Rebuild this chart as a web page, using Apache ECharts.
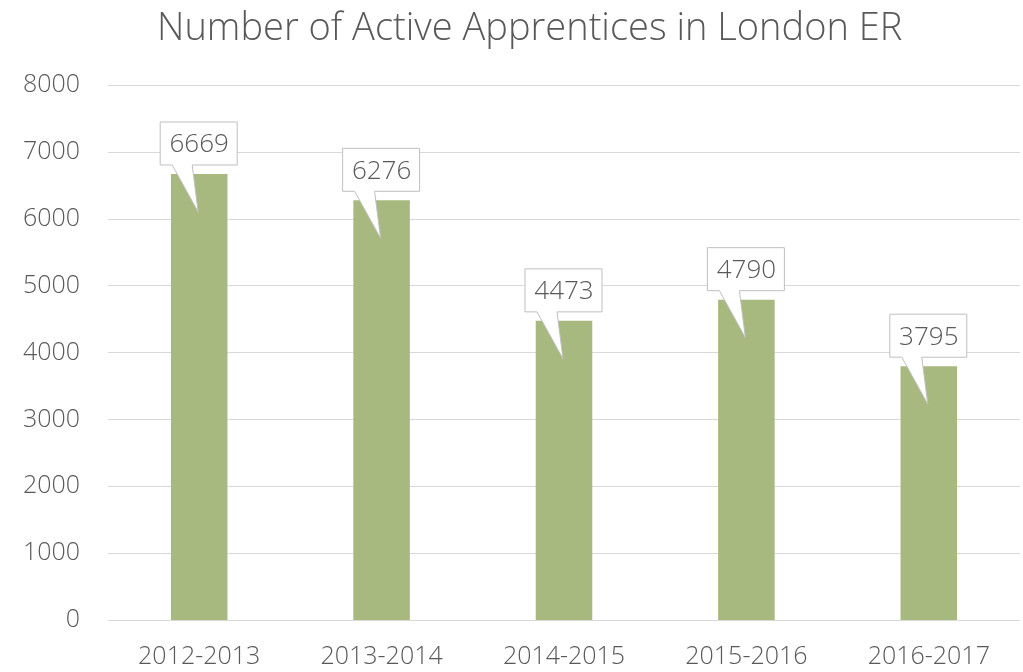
<!DOCTYPE html>
<html>
<head>
<meta charset="utf-8">
<script src="https://cdn.jsdelivr.net/npm/echarts@6/dist/echarts.min.js"></script>
<style>
  html, body { margin: 0; padding: 0; background: #fff; }
  #chart { width: 1023px; height: 672px; }
</style>
</head>
<body>
<div id="chart"></div>
<script>
const years = ['2012-2013', '2013-2014', '2014-2015', '2015-2016', '2016-2017']
const apprentices = [6669, 6276, 4473, 4790, 3795]

const chart = echarts.init(document.getElementById('chart'))

// callout boxes with a tail pointing into the bar
function renderCallout (params, api) {
  const p = api.coord([api.value(0), api.value(1)])
  const x = p[0]
  const y = p[1]
  const pts = [
    [-39, -52], [38, -52], [38, -9], [-7, -9], [-1, 38], [-27, -9], [-39, -9]
  ].map(d => [x + d[0], y + d[1]])
  return {
    type: 'group',
    children: [
      {
        type: 'polygon',
        shape: { points: pts },
        style: { fill: '#fff', stroke: '#bfbfbf', lineWidth: 1 }
      },
      {
        type: 'text',
        x: x,
        y: y - 29,
        style: {
          text: String(api.value(1)),
          fill: '#595959',
          font: '300 26px "Open Sans", sans-serif',
          align: 'center',
          verticalAlign: 'middle'
        }
      }
    ]
  }
}

chart.setOption({
  animation: false,
  title: {
    text: 'Number of Active Apprentices in London ER',
    left: 152,
    top: 5,
    textStyle: {
      color: '#595959',
      fontSize: 38,
      fontWeight: 300,
      fontFamily: '"Open Sans", sans-serif'
    }
  },
  grid: { left: 108, right: 3, top: 85, bottom: 52 },
  xAxis: {
    type: 'category',
    data: years,
    axisLine: { lineStyle: { color: '#d9d9d9' } },
    axisTick: { show: false },
    axisLabel: {
      color: '#595959',
      fontSize: 25,
      fontWeight: 300,
      margin: 24,
      fontFamily: '"Open Sans", sans-serif'
    }
  },
  yAxis: {
    type: 'value',
    min: 0,
    max: 8000,
    interval: 1000,
    axisLine: { show: false },
    axisTick: { show: false },
    splitLine: { lineStyle: { color: '#d9d9d9' } },
    axisLabel: {
      color: '#595959',
      fontSize: 25,
      fontWeight: 300,
      margin: 28,
      formatter: v => String(v),
      fontFamily: '"Open Sans", sans-serif'
    }
  },
  series: [
    {
      type: 'bar',
      data: apprentices,
      barWidth: '31%',
      itemStyle: { color: '#a8b97f' }
    },
    {
      type: 'custom',
      z: 5,
      renderItem: renderCallout,
      data: apprentices.map((v, i) => [i, v])
    }
  ]
})
</script>
</body>
</html>
